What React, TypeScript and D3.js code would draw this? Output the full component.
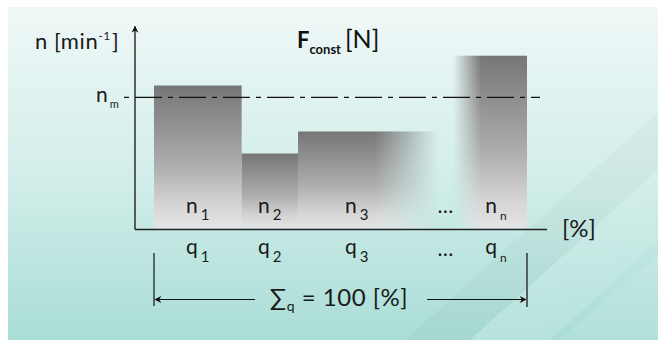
import React from "react";
import * as d3 from "d3";

// ---- data ----
const categories = ["1", "2", "3", "…", "n"];
// share of time q (in %) for each segment ("…" is the gap)
const qShares = [23.5, 15.1, 37.5, 4.1, 19.8];
// speed n relative to n_m = 100 (null = no bar)
const nValues: (number | null)[] = [109, 57, 74, null, 132];
const fades = ["none", "none", "right", "none", "left"];
const nMean = 100;
const yMax = 155;

const W = 658;
const H = 340;
const FONT = "Lato, 'Open Sans', sans-serif";

export default function App() {
  const total = d3.sum(qShares);
  const x = d3.scaleLinear().domain([0, total]).range([154, 527]);
  const y = d3.scaleLinear().domain([0, yMax]).range([228, 25.4]);
  const cum = d3.cumsum(qShares);
  const segs = categories.map((c, i) => {
    const x0 = x(i === 0 ? 0 : cum[i - 1]);
    const x1 = x(cum[i]);
    const f = fades[i];
    let cx = (x0 + x1) / 2;
    if (f === "right") cx = (x0 + (x0 + (x1 - x0) * 0.84)) / 2;
    if (f === "left") cx = (x0 + (x1 - x0) * 0.16 + x1) / 2;
    return { c, i, x0, x1, cx, v: nValues[i], f };
  });
  const axisX = 135;
  const axisY = 229.5;
  const axisRight = 547;
  const ym = y(nMean);

  const sub = (main: string, s: string, x0: number, base: number, size: number, subSize: number, dy: number, key: string) => (
    <text key={key} x={x0} y={base} fontFamily={FONT} fontSize={size} fill="#1a1a1a" textAnchor="middle">
      {main}
      <tspan fontSize={subSize} dy={dy} dx={3}>{s}</tspan>
    </text>
  );

  return (
    <svg width={W} height={H} style={{ position: "absolute", left: 0, top: 0 }}>
      <defs>
        <linearGradient id="bg" x1="0" y1="0" x2="0" y2="1">
          <stop offset="0" stopColor="#eff8f7" />
          <stop offset="0.5" stopColor="#d3eeea" />
          <stop offset="1" stopColor="#a9ddd6" />
        </linearGradient>
        <linearGradient id="bar" x1="0" y1="0" x2="0" y2="1">
          <stop offset="0" stopColor="#767676" />
          <stop offset="0.55" stopColor="#acacac" />
          <stop offset="0.85" stopColor="#d6d6d6" />
          <stop offset="1" stopColor="#e4e4e4" />
        </linearGradient>
        <linearGradient id="fadeR" x1="0" y1="0" x2="1" y2="0">
          <stop offset="0" stopColor="#fff" stopOpacity="1" />
          <stop offset="0.55" stopColor="#fff" stopOpacity="1" />
          <stop offset="1" stopColor="#fff" stopOpacity="0" />
        </linearGradient>
        <linearGradient id="fadeL" x1="0" y1="0" x2="1" y2="0">
          <stop offset="0" stopColor="#fff" stopOpacity="0" />
          <stop offset="0.38" stopColor="#fff" stopOpacity="1" />
          <stop offset="1" stopColor="#fff" stopOpacity="1" />
        </linearGradient>
        <mask id="mR" maskContentUnits="objectBoundingBox">
          <rect x="0" y="0" width="1" height="1" fill="url(#fadeR)" />
        </mask>
        <mask id="mL" maskContentUnits="objectBoundingBox">
          <rect x="0" y="0" width="1" height="1" fill="url(#fadeL)" />
        </mask>
        <linearGradient id="streak" x1="0" y1="1" x2="1" y2="0">
          <stop offset="0" stopColor="#ffffff" stopOpacity="0.18" />
          <stop offset="1" stopColor="#ffffff" stopOpacity="0.05" />
        </linearGradient>
        <clipPath id="panel">
          <rect x={8} y={7} width={W - 8} height={H - 7} />
        </clipPath>
        <marker id="arrL" viewBox="0 0 10 10" refX="1" refY="5" markerWidth="9" markerHeight="7" orient="auto" markerUnits="userSpaceOnUse">
          <path d="M0,5 L10,0 L7,5 L10,10 Z" fill="#111" />
        </marker>
        <marker id="arrR" viewBox="0 0 10 10" refX="9" refY="5" markerWidth="9" markerHeight="7" orient="auto" markerUnits="userSpaceOnUse">
          <path d="M10,5 L0,0 L3,5 L0,10 Z" fill="#111" />
        </marker>
      </defs>

      {/* background panel */}
      <rect x={8} y={7} width={W - 8} height={H - 7} fill="url(#bg)" />
      <g clipPath="url(#panel)">
        <polygon points="405,340 470,340 658,170 658,112" fill="#000" opacity={0.025} />
        <polygon points="470,340 550,340 658,240 658,170" fill="url(#streak)" />
        <polygon points="560,340 658,340 658,255" fill="#fff" opacity={0.1} />
      </g>

      {/* bars */}
      {segs
        .filter((s) => s.v !== null)
        .map((s) => (
          <rect
            key={s.c}
            x={s.x0}
            y={y(s.v as number)}
            width={s.x1 - s.x0}
            height={y(0) - y(s.v as number)}
            fill="url(#bar)"
            mask={s.f === "right" ? "url(#mR)" : s.f === "left" ? "url(#mL)" : undefined}
          />
        ))}

      {/* mean speed line */}
      <line x1={124} x2={540} y1={ym} y2={ym} stroke="#111" strokeWidth={1.2} strokeDasharray="5 6 27 6" />
      <text x={96} y={ym + 5} fontFamily={FONT} fontSize={21} fill="#1a1a1a">
        n<tspan fontSize={11} dy={6} dx={2}>m</tspan>
      </text>

      {/* axes */}
      <line x1={axisX} x2={axisX} y1={axisY} y2={y(yMax) + 1} stroke="#111" strokeWidth={1.3} markerEnd="url(#arrR)" />
      <line x1={axisX} x2={axisRight} y1={axisY} y2={axisY} stroke="#222" strokeWidth={1.3} />

      {/* axis titles */}
      <text x={35} y={49} fontFamily={FONT} fontSize={22} letterSpacing={0.6} fill="#1a1a1a">
        n [min<tspan fontSize={12} dy={-9}>-1</tspan>
        <tspan dy={9} dx={1}>]</tspan>
      </text>
      <text x={297} y={48} fontFamily={FONT} fill="#111">
        <tspan fontSize={22} fontWeight={700}>F</tspan>
        <tspan fontSize={13} fontWeight={700} dy={6}>const</tspan>
        <tspan fontSize={25} dy={-6} dx={4}>[N]</tspan>
      </text>
      <text x={562} y={237} fontFamily={FONT} fontSize={24} fill="#1a1a1a">[%]</text>

      {/* n labels */}
      {segs.map((s) =>
        s.c === "…" ? (
          <text key={"nd" + s.i} x={s.cx} y={213} fontFamily={FONT} fontSize={21} textAnchor="middle" fill="#1a1a1a">…</text>
        ) : (
          sub("n", s.c, s.cx, 213, 21, s.c === "n" ? 12 : 15, 7, "n" + s.i)
        )
      )}
      {/* q labels */}
      {segs.map((s) =>
        s.c === "…" ? (
          <text key={"qd" + s.i} x={s.cx} y={256} fontFamily={FONT} fontSize={21} textAnchor="middle" fill="#1a1a1a">…</text>
        ) : (
          sub("q", s.c, s.cx, 254, 21, s.c === "n" ? 12 : 15, 8, "q" + s.i)
        )
      )}

      {/* total bracket */}
      <line x1={x(0)} x2={x(0)} y1={253} y2={306} stroke="#111" strokeWidth={1.2} />
      <line x1={x(total)} x2={x(total)} y1={253} y2={307} stroke="#55605e" strokeWidth={2} />
      <line x1={x(0) + 1} x2={255} y1={299.5} y2={299.5} stroke="#111" strokeWidth={1.2} markerStart="url(#arrL)" />
      <line x1={427} x2={x(total) - 1} y1={299.5} y2={299.5} stroke="#111" strokeWidth={1.2} markerEnd="url(#arrR)" />
      <text x={339} y={306} fontFamily={FONT} fontSize={24} letterSpacing={0.5} fill="#1a1a1a" textAnchor="middle">
        ∑<tspan fontSize={14} dy={5}>q</tspan>
        <tspan dy={-5}> = 100 [%]</tspan>
      </text>
    </svg>
  );
}
